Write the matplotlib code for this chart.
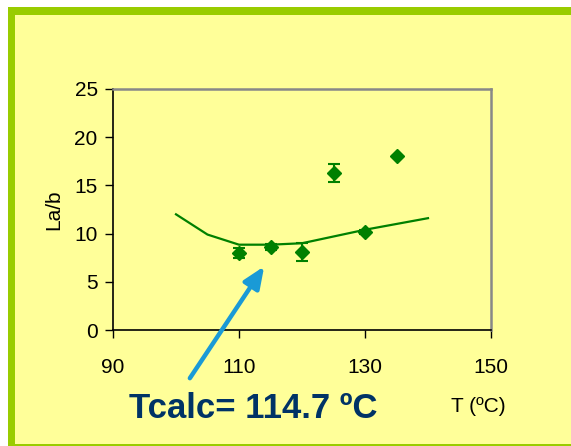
import matplotlib.pyplot as plt
from matplotlib.patches import Rectangle
from matplotlib import font_manager

# measured points
T_meas = [110, 115, 120, 125, 130, 135]
Lab_meas = [8.0, 8.6, 8.1, 16.3, 10.2, 18.0]
Lab_err = [0.5, 0.3, 0.9, 0.95, 0.2, 0.0]

# calculated curve
T_calc = [100, 105, 110, 115, 120, 125, 130, 135, 140]
Lab_calc = [12.0, 9.9, 8.85, 8.85, 9.0, 9.7, 10.4, 11.0, 11.6]

x_ticks = [90, 110, 130, 150]
y_ticks = [0, 5, 10, 15, 20, 25]

W, H = 571, 446
bg = '#ffff99'
green = '#99cc00'
names = {f.name for f in font_manager.fontManager.ttflist}
narrow = ['Liberation Sans Narrow'] if 'Liberation Sans Narrow' in names else ['Liberation Sans']

fig = plt.figure(figsize=(W / 100, H / 100), dpi=100)
fig.patch.set_facecolor('white')

def px_rect(x0, y0, x1, y1, color):
    fig.patches.append(Rectangle((x0 / W, 1 - y1 / H), (x1 - x0) / W, (y1 - y0) / H,
                                 transform=fig.transFigure, facecolor=color,
                                 edgecolor='none', zorder=-5))

# yellow panel with green frame
px_rect(8, 7, W, H, bg)
px_rect(8, 7, W, 15, green)
px_rect(8, 7, 15, H, green)
px_rect(8, 444, W, H, green)

ax = fig.add_axes([113 / W, (H - 330) / H, (491 - 113) / W, (330 - 89) / H])
ax.set_facecolor(bg)

ax.plot(T_calc, Lab_calc, color='#008000', lw=1.6, zorder=2)
ax.errorbar(T_meas, Lab_meas, yerr=Lab_err, fmt='D', color='#008000', ms=7.5,
            capsize=4.5, elinewidth=1.5, capthick=1.5, zorder=3)

ax.set_xlim(90, 150)
ax.set_ylim(0, 25)
ax.set_xticks(x_ticks)
ax.set_yticks(y_ticks)
fs = 17 if narrow[0].endswith('Narrow') else 15
for lab in ax.get_xticklabels() + ax.get_yticklabels():
    lab.set_family(narrow)
    lab.set_fontsize(fs)
ax.tick_params(axis='x', direction='out', length=6, width=1, pad=14, colors='black')
ax.tick_params(axis='y', direction='out', length=6, width=1, pad=5, colors='black')

ax.spines['left'].set_color('black')
ax.spines['bottom'].set_color('black')
ax.spines['top'].set_color('#888888')
ax.spines['right'].set_color('#888888')
for s in ax.spines.values():
    s.set_linewidth(1.2)
ax.spines['top'].set_linewidth(1.8)
ax.spines['right'].set_linewidth(1.8)

ax.set_ylabel('La/b', family=narrow, fontsize=fs, labelpad=8)

fig.text(478 / W, 1 - 407 / H, 'T (ºC)', family=narrow, fontsize=fs,
         ha='center', va='center')

fig.text(253 / W, 1 - 408 / H, 'Tcalc= 114.7 ºC', family='Liberation Sans',
         fontweight='bold', fontsize=25, color='#003366', ha='center', va='center')

ax.annotate('', xy=(114, 6.6), xytext=(102.2, -5), annotation_clip=False,
            arrowprops=dict(arrowstyle='-|>,head_length=1.3,head_width=0.55',
                            color='#1a9ad6', lw=3.2, shrinkA=0, shrinkB=0))

fig.savefig('out.png', dpi=100)
